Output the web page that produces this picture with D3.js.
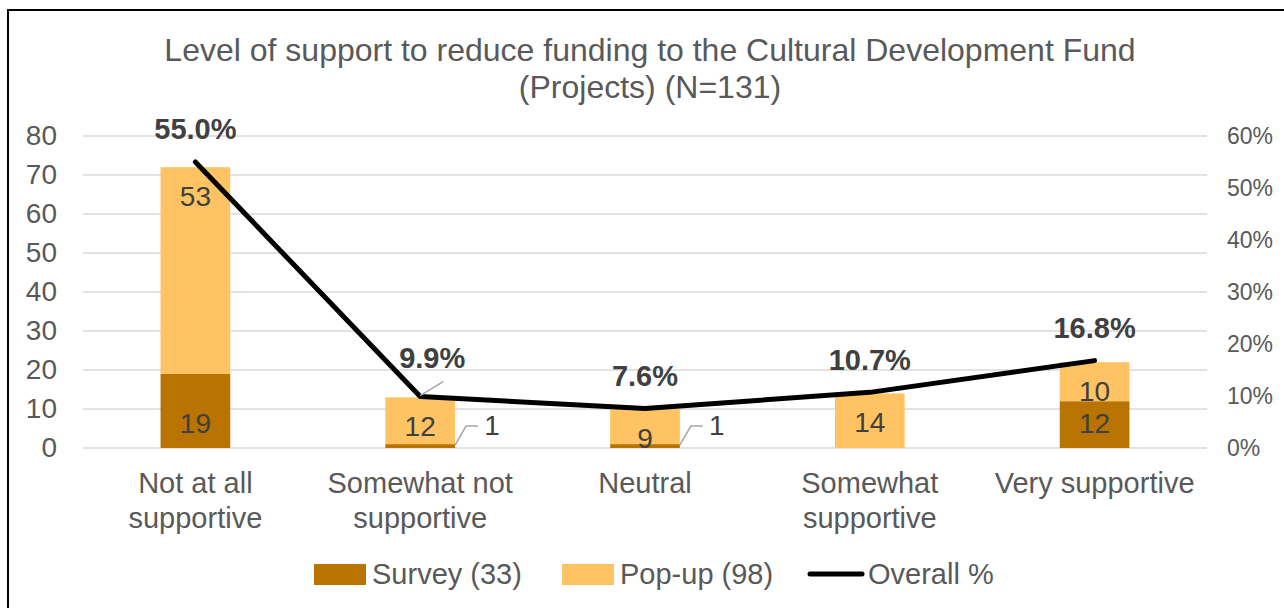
<!DOCTYPE html>
<html>
<head>
<meta charset="utf-8">
<script src="https://cdn.jsdelivr.net/npm/d3@7"></script>
<style>
  body { margin: 0; background: #fff; }
  svg text { font-family: "Liberation Sans", Arial, sans-serif; }
</style>
</head>
<body>
<div id="chart"></div>
<script>
var categories = [["Not at all", "supportive"], ["Somewhat not", "supportive"], ["Neutral"], ["Somewhat", "supportive"], ["Very supportive"]];
var survey = [19, 1, 1, 0, 12];
var popup = [53, 12, 9, 14, 10];
var overall = [55.0, 9.9, 7.6, 10.7, 16.8];
var leftTicks = [0, 10, 20, 30, 40, 50, 60, 70, 80];
var rightTicks = [0, 10, 20, 30, 40, 50, 60];
var seriesNames = ["Survey (33)", "Pop-up (98)", "Overall %"];

var width = 1284, height = 608;
var dark = "#B87300", light = "#FFC363", textCol = "#595959";

var svg = d3.select("#chart").append("svg")
    .attr("width", width)
    .attr("height", height);

// chart border (only left/top visible in the crop)
svg.append("rect")
    .attr("x", 8).attr("y", 10)
    .attr("width", 1400).attr("height", 700)
    .attr("fill", "none")
    .attr("stroke", "#000")
    .attr("stroke-width", 2);

var plot = { left: 83, right: 1207, top: 136, bottom: 448 };

var x = d3.scaleBand()
    .domain(d3.range(categories.length))
    .range([plot.left, plot.right])
    .paddingInner(0.69)
    .paddingOuter(0.345);

var y = d3.scaleLinear().domain([0, 80]).range([plot.bottom, plot.top]);
var y2 = d3.scaleLinear().domain([0, 60]).range([plot.bottom, plot.top]);

// title
var title = svg.append("text")
    .attr("x", 650).attr("y", 50)
    .attr("text-anchor", "middle")
    .attr("fill", textCol)
    .style("font-size", "32px");
title.append("tspan").attr("x", 650).attr("dy", "0.35em").text("Level of support to reduce funding to the Cultural Development Fund");
title.append("tspan").attr("x", 650).attr("dy", 37).text("(Projects) (N=131)");

// gridlines
svg.append("g").selectAll("line")
    .data(leftTicks)
    .enter().append("line")
    .attr("x1", plot.left).attr("x2", plot.right)
    .attr("y1", function(d){ return y(d); })
    .attr("y2", function(d){ return y(d); })
    .attr("stroke", "#D9D9D9")
    .attr("stroke-width", 1.5);

// left axis
var leftAxis = svg.append("g")
    .attr("transform", "translate(" + (plot.left - 26) + ",0)")
    .call(d3.axisLeft(y).tickValues(leftTicks).tickSize(0).tickPadding(0));
leftAxis.select(".domain").remove();
leftAxis.selectAll("text").attr("fill", textCol).style("font-size", "28px");

// right axis
var rightAxis = svg.append("g")
    .attr("transform", "translate(" + (plot.right + 20) + ",0)")
    .call(d3.axisRight(y2).tickValues(rightTicks).tickSize(0).tickPadding(0)
        .tickFormat(function(d){ return d + "%"; }));
rightAxis.select(".domain").remove();
rightAxis.selectAll("text").attr("fill", textCol).style("font-size", "23px");

// bars
var bars = svg.append("g");
bars.selectAll(".survey")
    .data(survey)
    .enter().append("rect")
    .attr("class", "survey")
    .attr("x", function(d, i){ return x(i); })
    .attr("width", x.bandwidth())
    .attr("y", function(d){ return y(d); })
    .attr("height", function(d){ return y(0) - y(d); })
    .attr("fill", dark);

bars.selectAll(".popup")
    .data(popup)
    .enter().append("rect")
    .attr("class", "popup")
    .attr("x", function(d, i){ return x(i); })
    .attr("width", x.bandwidth())
    .attr("y", function(d, i){ return y(d + survey[i]); })
    .attr("height", function(d){ return y(0) - y(d); })
    .attr("fill", light);

// bar value labels
var labels = svg.append("g")
    .attr("fill", "#404040")
    .style("font-size", "28px");

popup.forEach(function(d, i){
    labels.append("text")
        .attr("x", x(i) + x.bandwidth() / 2)
        .attr("y", y(d + survey[i]) + 29)
        .attr("dy", "0.35em")
        .attr("text-anchor", "middle")
        .text(d);
});

survey.forEach(function(d, i){
    if (d === 0) return;
    var cx = x(i) + x.bandwidth() / 2;
    if (d >= 5) {
        labels.append("text")
            .attr("x", cx)
            .attr("y", y(0) - 25)
            .attr("dy", "0.35em")
            .attr("text-anchor", "middle")
            .text(d);
    } else {
        // small value: label outside with leader line
        var x0 = x(i) + x.bandwidth(), y0 = y(d / 2) - 1;
        svg.append("polyline")
            .attr("points", [[x0, y0], [x0 + 11, y0 - 19], [x0 + 23, y0 - 19]].join(" "))
            .attr("fill", "none")
            .attr("stroke", "#A6A6A6")
            .attr("stroke-width", 1.5);
        labels.append("text")
            .attr("x", x0 + 37)
            .attr("y", y0 - 20)
            .attr("dy", "0.35em")
            .attr("text-anchor", "middle")
            .text(d);
    }
});

// overall % line
var line = d3.line()
    .x(function(d, i){ return x(i) + x.bandwidth() / 2; })
    .y(function(d){ return y2(d); });

svg.append("path")
    .datum(overall)
    .attr("d", line)
    .attr("fill", "none")
    .attr("stroke", "#000")
    .attr("stroke-width", 5)
    .attr("stroke-linejoin", "round")
    .attr("stroke-linecap", "round");

// percent labels
overall.forEach(function(d, i){
    var px = x(i) + x.bandwidth() / 2, py = y2(d);
    var lx = px, ly = py - 33;
    if (i === 1) {
        // moved label with leader
        svg.append("line")
            .attr("x1", px).attr("y1", py - 1)
            .attr("x2", px + 23).attr("y2", py - 15)
            .attr("stroke", "#A6A6A6")
            .attr("stroke-width", 1.5);
        lx = px + 12; ly = py - 39;
    }
    svg.append("text")
        .attr("x", lx).attr("y", ly)
        .attr("dy", "0.35em")
        .attr("text-anchor", "middle")
        .attr("fill", "#404040")
        .style("font-size", "29px")
        .style("font-weight", "bold")
        .text(d.toFixed(1) + "%");
});

// category labels
categories.forEach(function(lines, i){
    var t = svg.append("text")
        .attr("x", x(i) + x.bandwidth() / 2)
        .attr("y", 483)
        .attr("text-anchor", "middle")
        .attr("fill", textCol)
        .style("font-size", "29px");
    lines.forEach(function(s, j){
        t.append("tspan")
            .attr("x", x(i) + x.bandwidth() / 2)
            .attr("dy", j === 0 ? "0.35em" : 35)
            .text(s);
    });
});

// legend
var legend = svg.append("g").style("font-size", "29px");
var legendX = [314, 562, 808];
seriesNames.forEach(function(name, i){
    var g = legend.append("g").attr("transform", "translate(" + legendX[i] + ",574)");
    if (i < 2) {
        g.append("rect")
            .attr("x", 0).attr("y", -10)
            .attr("width", 52).attr("height", 21)
            .attr("fill", i === 0 ? dark : light);
    } else {
        g.append("line")
            .attr("x1", 2).attr("x2", 54)
            .attr("y1", 0).attr("y2", 0)
            .attr("stroke", "#000")
            .attr("stroke-width", 5)
            .attr("stroke-linecap", "round");
    }
    g.append("text")
        .attr("x", i < 2 ? 58 : 60)
        .attr("dy", "0.35em")
        .attr("fill", textCol)
        .text(name);
});
</script>
</body>
</html>
